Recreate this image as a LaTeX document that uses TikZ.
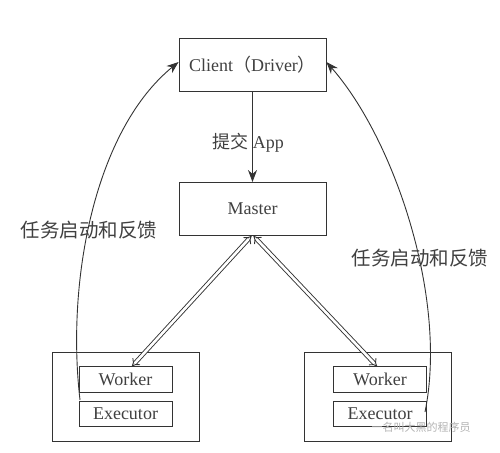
\documentclass[tikz,border=0pt]{standalone}
\usepackage{fontspec}
\setmainfont{Liberation Serif}
\newfontfamily\cjk{Noto Sans CJK SC}
\usetikzlibrary{arrows.meta}
\usetikzlibrary{positioning}

\begin{document}
\begin{tikzpicture}[x=1pt, y=-1pt, line width=0.9pt, draw=black!80, text=black!75,
    every node/.style={font=\fontsize{18}{20}\selectfont},
    box/.style={draw, minimum width=147pt, minimum height=53pt, inner sep=0pt},
    hostbox/.style={draw, minimum width=147pt, minimum height=89pt, inner sep=0pt},
    inbox/.style={draw, minimum width=93pt, minimum height=25.5pt, inner sep=0pt},
    lbl/.style={font=\cjk\fontsize{19.5}{20}\selectfont}]
  \useasboundingbox (0,0) rectangle (500,452);
  \node[box] (client) at (252.5,65)  {Client{\cjk（}Driver{\cjk）}};
  \node[box] (master) at (252.5,209) {Master};
  \node[hostbox] (lhost) at (126,396.5) {};
  \node[hostbox] (rhost) at (378,396.5) {};
  \node[inbox] (lworker) at (125.5,379.5) {Worker};
  \node[inbox] (lexec)   at (125.5,414)   {Executor};
  \node[inbox] (rworker) at (380,379.5)   {Worker};
  \node[inbox] (rexec)   at (380,414)     {Executor};
  \coordinate (lstart) at (80,400);
  \coordinate (rstart) at (425,412);
  \draw[-{Stealth[length=12pt, width=9pt]}] (client) -- (master);
  \node[draw=none] (submit) at (248,143) {{\cjk 提交} App};
  \draw[double, double distance=2.6pt, line width=0.9pt, {Implies}-{Implies}]
    ([xshift=-1pt]master.south) -- ([xshift=6.5pt]lworker.north);
  \draw[double, double distance=2.6pt, line width=0.9pt, {Implies}-{Implies}]
    ([xshift=1pt]master.south) -- ([xshift=-3pt]rworker.north);
  \draw[-{Stealth[length=12pt, width=9pt]}] (lstart)
    .. controls (66,280) and (95,130) .. ([yshift=3pt]client.west);
  \draw[-{Stealth[length=12pt, width=9pt]}] (rstart)
    .. controls (448,300) and (395,140) .. ([yshift=3pt]client.east);
  \node[lbl] (lfeed) at (89,230)  {任务启动和反馈};
  \node[lbl] (rfeed) at (420,258) {任务启动和反馈};
  \node[font=\cjk\fontsize{11}{12}\selectfont, text=black!30] (mark) at (421,427) {一名叫大黑的程序员};
\end{tikzpicture}
\end{document}
